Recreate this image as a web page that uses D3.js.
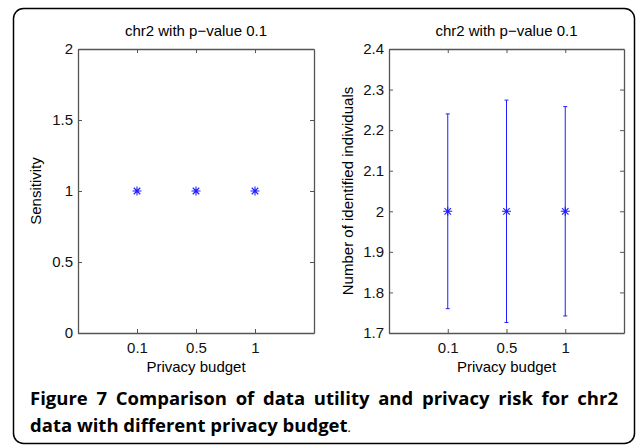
<!DOCTYPE html>
<html>
<head>
<meta charset="utf-8">
<script src="https://cdn.jsdelivr.net/npm/d3@7"></script>
<style>
  body { margin: 0; background: #fff; }
  text { font-family: "Liberation Sans", Arial, sans-serif; }
</style>
</head>
<body>
<script>
// privacy budgets (categories on x)
var budgets = ["0.1", "0.5", "1"];
// left panel: sensitivity
var sensitivity = [1, 1, 1];
// right panel: mean number of identified individuals and error half-width
var identified = [2, 2, 2];
var identifiedErr = [0.24, 0.274, 0.258];

var leftTicks = [0, 0.5, 1, 1.5, 2];
var rightTicks = [1.7, 1.8, 1.9, 2, 2.1, 2.2, 2.3, 2.4];

var w = 637, h = 446;
var blue = "#1f1fff";
var fs = 15;

var svg = d3.select("body").append("svg")
  .attr("width", w)
  .attr("height", h);

// rounded frame around figure
svg.append("rect")
  .attr("x", 13.5).attr("y", 8.5)
  .attr("width", 621).attr("height", 435)
  .attr("rx", 10).attr("ry", 10)
  .attr("fill", "none")
  .attr("stroke", "#000")
  .attr("stroke-width", 1.5);

function drawPanel(x0, x1, y0, y1, domain, ticks, fmt, ylabel, labelX, yVals, errs) {
  var g = svg.append("g");

  var xScale = d3.scaleLinear().domain([0, 4]).range([x0, x1]);
  var yScale = d3.scaleLinear().domain(domain).range([y1, y0]);

  // inside ticks, matlab style
  var axL = d3.axisLeft(yScale).tickValues(ticks).tickFormat(fmt).tickSizeInner(-4).tickSizeOuter(0).tickPadding(5);
  var axR = d3.axisRight(yScale).tickValues(ticks).tickFormat("").tickSizeInner(-4).tickSizeOuter(0);
  var xb = d3.axisBottom(xScale).tickValues([1, 2, 3]).tickFormat(function(d) { return budgets[d - 1]; })
    .tickSizeInner(-4).tickSizeOuter(0).tickPadding(9);
  var xt = d3.axisTop(xScale).tickValues([1, 2, 3]).tickFormat("").tickSizeInner(-4).tickSizeOuter(0);

  g.append("g").attr("transform", "translate(" + x0 + ",0)").call(axL);
  g.append("g").attr("transform", "translate(" + x1 + ",0)").call(axR);
  g.append("g").attr("transform", "translate(0," + y1 + ")").call(xb);
  g.append("g").attr("transform", "translate(0," + y0 + ")").call(xt);

  g.selectAll(".domain").attr("stroke", "#555").attr("stroke-width", 1.3);
  g.selectAll(".tick line").attr("stroke", "#555");
  g.selectAll("g").attr("font-size", fs).attr("font-family", null);
  g.selectAll(".tick text").attr("fill", "#111");

  // title
  g.append("text")
    .attr("x", (x0 + x1) / 2).attr("y", 36)
    .attr("text-anchor", "middle")
    .attr("font-size", fs)
    .text("chr2 with p\u2212value 0.1");

  // x label
  g.append("text")
    .attr("x", (x0 + x1) / 2).attr("y", 372)
    .attr("text-anchor", "middle")
    .attr("font-size", fs)
    .text("Privacy budget");

  // y label
  g.append("text")
    .attr("transform", "translate(" + labelX + "," + ((y0 + y1) / 2) + ") rotate(-90)")
    .attr("text-anchor", "middle")
    .attr("font-size", fs)
    .text(ylabel);

  // error bars
  if (errs) {
    yVals.forEach(function(v, i) {
      var cx = xScale(i + 1);
      g.append("line")
        .attr("x1", cx).attr("x2", cx)
        .attr("y1", yScale(v - errs[i])).attr("y2", yScale(v + errs[i]))
        .attr("stroke", blue).attr("stroke-width", 1);
      [v - errs[i], v + errs[i]].forEach(function(e) {
        g.append("line")
          .attr("x1", cx - 2).attr("x2", cx + 2)
          .attr("y1", yScale(e)).attr("y2", yScale(e))
          .attr("stroke", blue).attr("stroke-width", 1);
      });
    });
  }

  // asterisk markers
  yVals.forEach(function(v, i) {
    var cx = xScale(i + 1), cy = yScale(v), r = 4.5;
    var p = "M" + (cx - r) + "," + cy + "L" + (cx + r) + "," + cy +
      "M" + cx + "," + (cy - r) + "L" + cx + "," + (cy + r) +
      "M" + (cx - r * 0.72) + "," + (cy - r * 0.72) + "L" + (cx + r * 0.72) + "," + (cy + r * 0.72) +
      "M" + (cx - r * 0.72) + "," + (cy + r * 0.72) + "L" + (cx + r * 0.72) + "," + (cy - r * 0.72);
    g.append("path").attr("d", p).attr("stroke", blue).attr("stroke-width", 1.1).attr("fill", "none");
  });
}

drawPanel(78, 314, 49, 333, [0, 2], leftTicks, d3.format("~g"), "Sensitivity", 41, sensitivity, null);
drawPanel(389, 624, 49, 333, [1.7, 2.4], rightTicks, d3.format(".1f"), "Number of identified individuals", 353, identified, identifiedErr);

// matlab shows "2" not "2.0"
svg.selectAll(".tick text").filter(function() { return this.textContent == "2.0"; }).text("2");

// caption, first line justified with word spacing
var capFont = "Open Sans, sans-serif";
var line1 = svg.append("text")
  .attr("x", 30).attr("y", 405)
  .attr("font-size", 18.5)
  .style("font-family", capFont)
  .attr("font-weight", "bold")
  .text("Figure 7 Comparison of data utility and privacy risk for chr2");
var natural = line1.node().getComputedTextLength();
var gaps = line1.text().split(" ").length - 1;
line1.attr("word-spacing", (588 - natural) / gaps);

var line2 = svg.append("text")
  .attr("x", 30).attr("y", 432)
  .attr("font-size", 18.5)
  .style("font-family", capFont)
  .attr("font-weight", "bold");
line2.append("tspan").text("data with different privacy budget");
line2.append("tspan").attr("font-weight", "normal").attr("font-size", 12).text(".");
</script>
</body>
</html>
